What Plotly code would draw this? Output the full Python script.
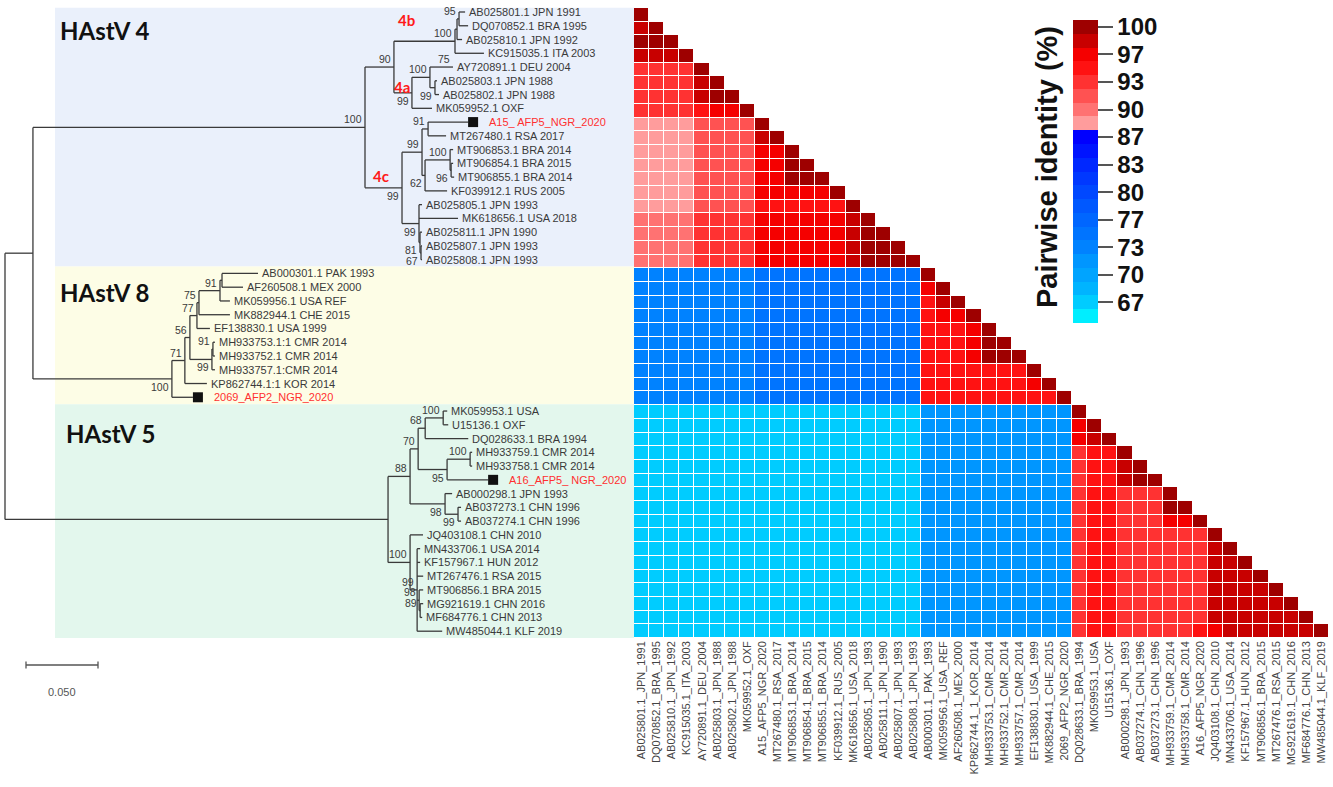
import plotly.graph_objects as go

W, H = 1333, 787

# ---------------- DATA ----------------
# Phylogeny (branch lengths = substitutions/site; internal labels = bootstrap + label side u/d)
h4_newick = ("((((AB025801:0.0042,DQ070852:0.0063)95u:0.0014,AB025810:0.0035):0.0014,KC915035:0.0201)100u:0.0424,"
             "(((AY720891:0.0000)75u:0.0160,(AB025803:0.0014,AB025802:0.0028)99d:0.0035)100u:0.0125,MK059952:0.0139)99d:0.0125)90u:0.0201,"
             "(((A15:0.0278,MT267480:0.0125)91u:0.0042,((MT906853:0.0021,(MT906854:0.0014,MT906855:0.0021)96d:0.0007)100u:0.0174,"
             "KF039912:0.0153)62d:0.0021)99u:0.0139,(AB025805:0.0021,MK618656:0.0271,(AB025811:0.0014,(AB025807:0.0007,"
             "AB025808:0.0007)67d:0.0007)81d:0.0007)99d:0.0118)99d:0.0257")
h8_newick = ("((((((AB000301:0.0250,AF260508:0.0146):0.0014,MK059956:0.0069)91u:0.0146,MK882944:0.0215)75u:0.0014,"
             "EF138830:0.0090)77u:0.0049,((MH933753:0.0014,MH933752:0.0014)91u:0.0007,MH933757:0.0021)99d:0.0153)56u:0.0035,"
             "KP862744:0.0153)71u:0.0090,NGR2069:0.0146")
h5_newick = ("((((MK059953:0.0028,U15136:0.0035)100u:0.0125,DQ028633:0.0299)68u:0.0049,((MH933759:0.0014,MH933758:0.0014)100u:0.0160,"
             "A16:0.0285)95d:0.0201)70u:0.0056,(AB000298:0.0049,(AB037273:0.0021,AB037274:0.0021)99d:0.0090)98d:0.0243)88u:0.0153,"
             "(JQ403108:0.0090,(MN433706:0.0021,KF157967:0.0021,MT267476:0.0042,(MT906856:0.0028,(MG921619:0.0021,"
             "MF684776:0.0014)89u:0.0007)98u:0.0014,MW485044:0.0174)99u:0.0049)100u:0.0153")
tree_newick = "(((" + h4_newick + ")100u:0.2306,(" + h8_newick + ")100d:0.0965):0.0194,(" + h5_newick + "):0.2660);"

tip_text = {
    "AB025801": "AB025801.1 JPN 1991", "DQ070852": "DQ070852.1 BRA 1995", "AB025810": "AB025810.1 JPN 1992",
    "KC915035": "KC915035.1 ITA 2003", "AY720891": "AY720891.1 DEU 2004", "AB025803": "AB025803.1 JPN 1988",
    "AB025802": "AB025802.1 JPN 1988", "MK059952": "MK059952.1 OXF", "A15": "A15_ AFP5_NGR_2020",
    "MT267480": "MT267480.1 RSA 2017", "MT906853": "MT906853.1 BRA 2014", "MT906854": "MT906854.1 BRA 2015",
    "MT906855": "MT906855.1 BRA 2014", "KF039912": "KF039912.1 RUS 2005", "AB025805": "AB025805.1 JPN 1993",
    "MK618656": "MK618656.1 USA 2018", "AB025811": "AB025811.1 JPN 1990", "AB025807": "AB025807.1 JPN 1993",
    "AB025808": "AB025808.1 JPN 1993",
    "AB000301": "AB000301.1 PAK 1993", "AF260508": "AF260508.1 MEX 2000", "MK059956": "MK059956.1 USA REF",
    "MK882944": "MK882944.1 CHE 2015", "EF138830": "EF138830.1 USA 1999", "MH933753": "MH933753.1:1 CMR 2014",
    "MH933752": "MH933752.1 CMR 2014", "MH933757": "MH933757.1:CMR 2014", "KP862744": "KP862744.1:1 KOR 2014",
    "NGR2069": "2069_AFP2_NGR_2020",
    "MK059953": "MK059953.1 USA", "U15136": "U15136.1 OXF", "DQ028633": "DQ028633.1 BRA 1994",
    "MH933759": "MH933759.1 CMR 2014", "MH933758": "MH933758.1 CMR 2014", "A16": "A16_AFP5_ NGR_2020",
    "AB000298": "AB000298.1 JPN 1993", "AB037273": "AB037273.1 CHN 1996", "AB037274": "AB037274.1 CHN 1996",
    "JQ403108": "JQ403108.1 CHN 2010", "MN433706": "MN433706.1 USA 2014", "KF157967": "KF157967.1 HUN 2012",
    "MT267476": "MT267476.1 RSA 2015", "MT906856": "MT906856.1 BRA 2015", "MG921619": "MG921619.1 CHN 2016",
    "MF684776": "MF684776.1 CHN 2013", "MW485044": "MW485044.1 KLF 2019",
}
study_tips = ["A15", "NGR2069", "A16"]
scale_bar_length = 0.05

# Heatmap (pairwise identity, %), order of the matrix
heat_labels = [
    "AB025801.1_JPN_1991", "DQ070852.1_BRA_1995", "AB025810.1_JPN_1992", "KC915035.1_ITA_2003",
    "AY720891.1_DEU_2004", "AB025803.1_JPN_1988", "AB025802.1_JPN_1988", "MK059952.1_OXF",
    "A15_AFP5_NGR_2020", "MT267480.1_RSA_2017", "MT906853.1_BRA_2014", "MT906854.1_BRA_2015",
    "MT906855.1_BRA_2014", "KF039912.1_RUS_2005", "MK618656.1_USA_2018", "AB025805.1_JPN_1993",
    "AB025811.1_JPN_1990", "AB025807.1_JPN_1993", "AB025808.1_JPN_1993",
    "AB000301.1_PAK_1993", "MK059956.1_USA_REF", "AF260508.1_MEX_2000", "KP862744.1_1_KOR_2014",
    "MH933753.1_CMR_2014", "MH933752.1_CMR_2014", "MH933757.1_CMR_2014", "EF138830.1_USA_1999",
    "MK882944.1_CHE_2015", "2069_AFP2_NGR_2020",
    "DQ028633.1_BRA_1994", "MK059953.1_USA", "U15136.1_OXF", "AB000298.1_JPN_1993", "AB037274.1_CHN_1996",
    "AB037273.1_CHN_1996", "MH933759.1_CMR_2014", "MH933758.1_CMR_2014", "A16_AFP5_NGR_2020",
    "JQ403108.1_CHN_2010", "MN433706.1_USA_2014", "KF157967.1_HUN_2012", "MT906856.1_BRA_2015",
    "MT267476.1_RSA_2015", "MG921619.1_CHN_2016", "MF684776.1_CHN_2013", "MW485044.1_KLF_2019",
]
# within-genotype rows, run-length coded (count, identity) for columns left of the diagonal
h4_rows = [
    [], [(1, 98.5)], [(2, 99.2)], [(3, 98.0)], [(4, 93.5)],
    [(4, 93.5), (1, 98.2)], [(4, 93.5), (1, 98.2), (1, 99.6)], [(4, 93.6), (1, 95.3), (2, 97.2)],
    [(4, 88.6), (4, 91.4)], [(4, 88.6), (4, 91.4), (1, 97.5)], [(4, 88.4), (4, 91.6), (2, 96.7)],
    [(4, 88.4), (4, 91.6), (2, 96.7), (1, 99.6)], [(4, 88.4), (4, 91.6), (2, 96.7), (2, 99.6)],
    [(4, 88.6), (4, 91.6), (2, 96.5), (3, 97.2)], [(4, 88.8), (4, 91.6), (6, 95.2)],
    [(4, 90.0), (4, 92.5), (6, 96.3), (1, 97.5)],
    [(4, 90.0), (4, 92.5), (6, 96.3), (1, 97.5), (1, 99.6)],
    [(4, 90.0), (4, 92.5), (6, 96.3), (1, 97.5), (2, 99.6)],
    [(4, 90.0), (4, 92.5), (6, 96.3), (1, 97.5), (3, 99.6)],
]
h8_rows = [
    [], [(1, 96.5)], [(1, 95.5), (1, 98.0)], [(1, 95.0), (2, 96.5)], [(3, 95.5), (1, 96.8)],
    [(3, 95.5), (1, 96.8), (1, 99.6)], [(3, 95.5), (1, 96.8), (2, 99.6)], [(7, 95.3)],
    [(7, 95.3), (1, 96.5)], [(9, 94.8)],
]
h5_rows = [
    [], [(1, 96.6)], [(1, 96.6), (1, 99.0)],
    [(1, 94.0), (1, 95.2), (1, 94.5)],
    [(1, 94.0), (1, 95.2), (1, 94.5), (1, 98.2)],
    [(1, 94.0), (1, 95.2), (1, 94.5), (1, 98.2), (1, 99.5)],
    [(1, 94.0), (1, 95.0), (1, 94.5), (3, 93.8)],
    [(1, 94.0), (1, 95.0), (1, 94.5), (3, 93.8), (1, 99.5)],
    [(1, 94.0), (1, 95.0), (1, 94.5), (3, 93.8), (2, 96.6)],
    [(1, 93.5), (1, 95.0), (1, 94.2), (6, 93.3)],
    [(1, 93.5), (1, 95.0), (1, 94.2), (6, 93.3), (1, 98.3)],
    [(1, 93.5), (1, 95.0), (1, 94.2), (6, 93.3), (1, 98.3), (1, 99.0)],
    [(1, 93.5), (1, 95.0), (1, 94.2), (6, 93.3), (1, 98.3), (2, 98.6)],
    [(1, 93.5), (1, 95.0), (1, 94.2), (6, 93.3), (1, 98.3), (3, 98.6)],
    [(1, 93.5), (1, 95.0), (1, 94.2), (6, 93.3), (1, 98.3), (4, 98.6)],
    [(1, 93.5), (1, 95.0), (1, 94.2), (6, 93.3), (1, 98.3), (4, 98.6), (1, 99.0)],
    [(1, 93.5), (1, 95.0), (1, 94.2), (5, 93.3), (1, 95.2), (1, 96.6), (6, 98.6)],
]
# between-genotype identity by column
h8_vs_h4 = [72.8] * 4 + [73.4] * 4 + [74.3] * 11
h5_vs_h4 = [67.0] * 5 + [66.2] * 4 + [66.8] * 10
h5_vs_h8 = [71.2] * 10

# colour bins of the identity scale (top = 100 %)
bin_colors = ["#9E0000", "#C80000", "#F50000", "#FF1212", "#FF3232", "#FF5252", "#FF7272", "#FF9C9C",
              "#0000FF", "#0014FF", "#0028FF", "#0038FF", "#0048FF", "#0058FF", "#0066FF", "#0074FF",
              "#0082FF", "#0096FF", "#00A4FF", "#00B4FF", "#00CCFF", "#00EEFF"]
bar_ticks = [100, 96.667, 93.333, 90, 86.667, 83.333, 80, 76.667, 73.333, 70, 66.667]
bar_ticktext = ["100", "97", "93", "90", "87", "83", "80", "77", "73", "70", "67"]


# ---------------- TREE LAYOUT ----------------
def parse_newick(s):
    s = s.replace(" ", "").rstrip(";")
    pos = 0

    def node():
        nonlocal pos
        kids = []
        if s[pos] == "(":
            pos += 1
            while True:
                kids.append(node())
                if s[pos] == ",":
                    pos += 1
                    continue
                if s[pos] == ")":
                    pos += 1
                    break
        st = pos
        while pos < len(s) and s[pos] not in ":,()":
            pos += 1
        label = s[st:pos]
        length = 0.0
        if pos < len(s) and s[pos] == ":":
            pos += 1
            st = pos
            while pos < len(s) and s[pos] not in ",()":
                pos += 1
            length = float(s[st:pos])
        return {"label": label, "len": length, "kids": kids}

    return node()


root = parse_newick(tree_newick)
tips = []
internals = []


def layout(nd, x0):
    nd["x"] = x0 + nd["len"]
    if not nd["kids"]:
        nd["y"] = len(tips)
        tips.append(nd)
    else:
        for k in nd["kids"]:
            layout(k, nd["x"])
        nd["y"] = (nd["kids"][0]["y"] + nd["kids"][-1]["y"]) / 2
        internals.append(nd)


layout(root, 0.0)

lx, ly = [], []
for nd in internals:
    if len(nd["kids"]) > 1:
        lx += [nd["x"], nd["x"], None]
        ly += [nd["kids"][0]["y"], nd["kids"][-1]["y"], None]
    for k in nd["kids"]:
        if k["x"] > nd["x"]:
            lx += [nd["x"], k["x"], None]
            ly += [k["y"], k["y"], None]

PX = 1440.0      # pixels per substitution unit
ROW = 13.76      # pixels per tip
TOP = 12.0       # pixel y of first tip
X0 = 5.0         # pixel x of root
TREE_R = 634.0


def py2row(py):
    return (py - TOP) / ROW


fig = go.Figure()

# clade boxes
for (r0, r1, col) in [(-0.3, 18.5, "#EAF0FB"), (18.5, 28.5, "#FDFDE6"), (28.5, 45.5, "#E3F7ED")]:
    fig.add_shape(type="rect", xref="paper", yref="y", x0=55 / W, x1=TREE_R / W, y0=r0, y1=r1,
                  fillcolor=col, line=dict(width=0), layer="below")

fig.add_trace(go.Scatter(x=lx, y=ly, mode="lines", line=dict(color="#3a3a3a", width=1.3),
                         hoverinfo="skip", showlegend=False, xaxis="x", yaxis="y"))

sq = [t for t in tips if t["label"] in study_tips]
fig.add_trace(go.Scatter(x=[t["x"] + 5 / PX for t in sq], y=[t["y"] for t in sq], mode="markers",
                         marker=dict(symbol="square", size=10, color="#111111"),
                         hoverinfo="skip", showlegend=False, xaxis="x", yaxis="y"))

# scale bar
sbx = (26 - X0) / PX
sby = py2row(665)
fig.add_trace(go.Scatter(x=[sbx, sbx + scale_bar_length, None, sbx, sbx, None,
                            sbx + scale_bar_length, sbx + scale_bar_length],
                         y=[sby, sby, None, sby - 0.25, sby + 0.25, None, sby - 0.25, sby + 0.25],
                         mode="lines", line=dict(color="#555555", width=1.3),
                         hoverinfo="skip", showlegend=False, xaxis="x", yaxis="y"))

ann = []
FONT = "Liberation Sans, Arial, sans-serif"
for t in tips:
    red = t["label"] in study_tips
    ann.append(dict(x=t["x"], y=t["y"], xref="x", yref="y", text=tip_text[t["label"]], showarrow=False,
                    xanchor="left", yanchor="middle", xshift=19 if red else 2,
                    font=dict(family=FONT, size=11, color="#FF3030" if red else "#3a3a3a")))
for nd in internals:
    lab = nd["label"]
    if not lab:
        continue
    side = lab[-1]
    ann.append(dict(x=nd["x"], y=nd["y"], xref="x", yref="y", text=lab[:-1], showarrow=False,
                    xanchor="right", yanchor="bottom" if side == "u" else "top", xshift=-1,
                    font=dict(family=FONT, size=10.5, color="#3a3a3a")))

ann.append(dict(x=sbx + scale_bar_length / 2, y=py2row(692), xref="x", yref="y", text="0.050",
                showarrow=False, font=dict(family=FONT, size=11, color="#555555")))
for txt, px_, py_ in [("HAstV 4", 58, 30), ("HAstV 8", 58, 292), ("HAstV 5", 64, 433)]:
    ann.append(dict(x=(px_ - X0) / PX, y=py2row(py_), xref="x", yref="y", text="<b>" + txt + "</b>",
                    showarrow=False, xanchor="left", yanchor="middle",
                    font=dict(family="Lato, Open Sans, sans-serif", size=24, color="#111111")))
for txt, px_, py_ in [("4b", 406, 20), ("4a", 402, 87), ("4c", 381, 176)]:
    ann.append(dict(x=(px_ - X0) / PX, y=py2row(py_), xref="x", yref="y", text="<b>" + txt + "</b>",
                    showarrow=False, xanchor="center", yanchor="middle",
                    font=dict(family="Lato, Open Sans, sans-serif", size=15, color="#FF1A1A")))
ann.append(dict(x=1047 / W, y=1 - 167 / H, xref="paper", yref="paper", text="<b>Pairwise identity (%)</b>",
                textangle=-90, showarrow=False, xanchor="center", yanchor="middle",
                font=dict(family=FONT, size=29, color="#111111")))

# ---------------- HEATMAP ----------------
n = len(heat_labels)
z = [[None] * n for _ in range(n)]


def fill_block(rows, off):
    for r, runs in enumerate(rows):
        i = off + r
        j = off
        for cnt, v in runs:
            for _ in range(cnt):
                z[i][j] = v
                j += 1
        z[i][i] = 100.0


n4, n8 = len(h4_rows), len(h8_rows)
fill_block(h4_rows, 0)
fill_block(h8_rows, n4)
fill_block(h5_rows, n4 + n8)
for i in range(n4, n4 + n8):
    for j in range(n4):
        z[i][j] = h8_vs_h4[j]
for i in range(n4 + n8, n):
    for j in range(n4):
        z[i][j] = h5_vs_h4[j]
    for j in range(n4, n4 + n8):
        z[i][j] = h5_vs_h8[j - n4]

nb = len(bin_colors)
step = 100.0 / 60.0
zmax = 100 + step / 2
zmin = zmax - nb * step
cs = []
for jb in range(nb):
    c = bin_colors[nb - 1 - jb]
    cs.append([jb / nb, c])
    cs.append([(jb + 1) / nb, c])

CB_X, CB_TOP, CB_LEN, CB_W = 1073, 20, 303, 25
fig.add_trace(go.Heatmap(
    z=z, x=list(range(n)), y=list(range(n)), xaxis="x2", yaxis="y2",
    colorscale=cs, zmin=zmin, zmax=zmax, xgap=1, ygap=1, hoverongaps=False,
    colorbar=dict(x=CB_X / W, xanchor="left", y=1 - CB_TOP / H, yanchor="top", len=CB_LEN / H, lenmode="fraction",
                  thickness=CB_W, thicknessmode="pixels", outlinewidth=0, xpad=0, ypad=0,
                  tickvals=bar_ticks, ticktext=bar_ticktext, ticks="outside", ticklen=15, tickwidth=2,
                  tickcolor="#555555",
                  tickfont=dict(family=FONT, size=24, color="#111111", weight="bold"))))

# thin white separators between the colour-bar swatches
for k in range(1, nb):
    yy = 1 - (CB_TOP + k * CB_LEN / nb) / H
    fig.add_shape(type="line", xref="paper", yref="paper", x0=CB_X / W, x1=(CB_X + CB_W) / W,
                  y0=yy, y1=yy, line=dict(color="rgba(255,255,255,0.75)", width=1.2), layer="above")

fig.update_layout(
    width=W, height=H, margin=dict(l=0, r=0, t=0, b=0),
    paper_bgcolor="white", plot_bgcolor="rgba(0,0,0,0)", showlegend=False,
    xaxis=dict(domain=[0, TREE_R / W], range=[-X0 / PX, (TREE_R - X0) / PX], visible=False, fixedrange=True),
    yaxis=dict(domain=[0, 1], range=[(H - TOP) / ROW, -TOP / ROW], visible=False, fixedrange=True),
    xaxis2=dict(domain=[TREE_R / W, 1329 / W], range=[-0.5, n - 0.5], anchor="y2",
                tickvals=list(range(n)), ticktext=heat_labels, tickangle=-90, showgrid=False, zeroline=False,
                showline=False, ticks="", tickfont=dict(family=FONT, size=11, color="#444444")),
    yaxis2=dict(domain=[(H - 638) / H, (H - 8) / H], range=[n - 0.5, -0.5], anchor="x2", visible=False),
    annotations=ann,
)

fig.write_html("out.html", config={"displayModeBar": False},
               post_script="document.body.style.margin='0px';document.body.style.overflow='hidden';")
